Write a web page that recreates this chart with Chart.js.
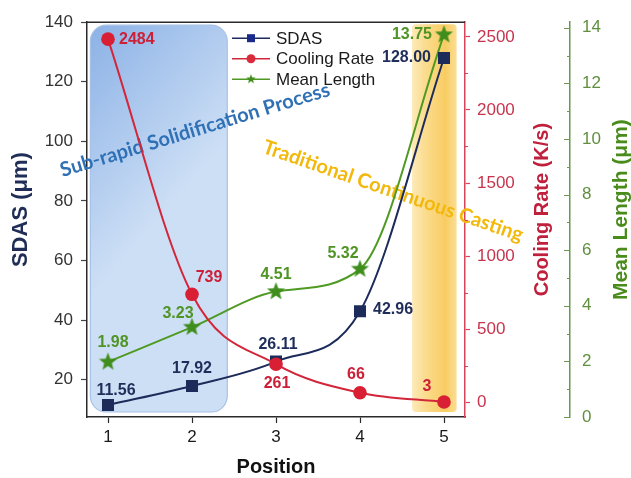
<!DOCTYPE html>
<html>
<head>
<meta charset="utf-8">
<script src="https://cdn.jsdelivr.net/npm/chart.js@4.4.1/dist/chart.umd.min.js"></script>
<style>
  html, body { margin: 0; padding: 0; background: #fff; }
</style>
</head>
<body>
<canvas id="chart" width="631" height="478"></canvas>
<script>
// data
const positions = [1, 2, 3, 4, 5];
const sdas = [11.56, 17.92, 26.11, 42.96, 128.00];
const coolingRate = [2484, 739, 261, 66, 3];
const meanLength = [1.98, 3.23, 4.51, 5.32, 13.75];

// axis ticks
const sdasTicks = [20, 40, 60, 80, 100, 120, 140];
const coolTicks = [0, 500, 1000, 1500, 2000, 2500];
const coolMinor = [250, 750, 1250, 1750, 2250];
const lengthTicks = [0, 2, 4, 6, 8, 10, 12, 14];
const lengthMinor = [1, 3, 5, 7, 9, 11, 13];

// shaded process regions (in position units)
const subRapidRange = [0.79, 2.42];
const traditionalRange = [4.62, 5.15];

// styles
const FONT = "'Liberation Sans', Arial, sans-serif";
const NAVY = '#1d2b5b', RED = '#d3263a', GREEN = '#4f9a22';
const STAR = '#3f8d1c';

// label offsets [dx, dy, align] per point
const sdasLabelPos = [[8, -14, 'center'], [0, -17, 'center'], [2, -17, 'center'], [13, -2, 'left'], [-13, 0, 'right']];
const coolLabelPos = [[11, 0, 'left'], [17, -17, 'center'], [1, 19, 'center'], [-4, -18, 'center'], [-17, -15, 'center']];
const lengthLabelPos = [[5, -19, 'center'], [-14, -14, 'center'], [0, -17, 'center'], [-17, -15, 'center'], [-12, 0, 'right']];

function starCanvas(r, color) {
  const s = Math.ceil(r * 2 + 2);
  const c = document.createElement('canvas');
  c.width = s; c.height = s;
  const g = c.getContext('2d');
  g.beginPath();
  for (let i = 0; i < 10; i++) {
    const rad = i % 2 === 0 ? r : r * 0.42;
    const a = -Math.PI / 2 + i * Math.PI / 5;
    const px = s / 2 + rad * Math.cos(a), py = s / 2 + rad * Math.sin(a);
    i === 0 ? g.moveTo(px, py) : g.lineTo(px, py);
  }
  g.closePath();
  g.fillStyle = color;
  g.fill();
  return c;
}
const bigStar = starCanvas(9.5, STAR);
const smallStar = starCanvas(5, STAR);

const xy = ys => positions.map((x, i) => ({ x, y: ys[i] }));

// background boxes + rotated process names
const regionsPlugin = {
  id: 'regions',
  beforeDatasetsDraw(chart) {
    const { ctx, chartArea: a, scales } = chart;
    const xs = scales.x;
    ctx.save();
    // blue box
    let x1 = xs.getPixelForValue(subRapidRange[0]);
    let x2 = xs.getPixelForValue(subRapidRange[1]);
    let g = ctx.createLinearGradient(x1, a.top, x2, a.top + 120);
    g.addColorStop(0, '#8bb1e6');
    g.addColorStop(1, '#cddff5');
    ctx.beginPath();
    ctx.roundRect(x1, a.top + 3, x2 - x1, a.bottom - a.top - 8, 16);
    ctx.fillStyle = g;
    ctx.fill();
    ctx.strokeStyle = '#a7c2e6';
    ctx.lineWidth = 1.2;
    ctx.stroke();
    // yellow box
    x1 = xs.getPixelForValue(traditionalRange[0]);
    x2 = xs.getPixelForValue(traditionalRange[1]);
    g = ctx.createLinearGradient(x1, 0, x2, 0);
    g.addColorStop(0, 'rgba(252,228,165,0.8)');
    g.addColorStop(0.3, '#fbdc8e');
    g.addColorStop(0.75, '#f8cc62');
    g.addColorStop(1, 'rgba(250,214,120,0.8)');
    ctx.beginPath();
    ctx.roundRect(x1, a.top + 2, x2 - x1, a.bottom - a.top - 7, 4);
    ctx.fillStyle = g;
    ctx.fill();

    // rotated text
    ctx.textAlign = 'center';
    ctx.textBaseline = 'middle';
    ctx.font = "bold 20px Lato, 'Open Sans', sans-serif";
    ctx.save();
    ctx.translate(195, 130);
    ctx.rotate(-16.9 * Math.PI / 180);
    ctx.fillStyle = '#3071b6';
    ctx.fillText('Sub-rapid Solidification Process', 0, 0);
    ctx.restore();
    ctx.save();
    ctx.translate(393, 191);
    ctx.rotate(19 * Math.PI / 180);
    ctx.fillStyle = '#f3b80c';
    ctx.fillText('Traditional Continuous Casting', 0, 0);
    ctx.restore();
    ctx.restore();
  }
};

// value labels next to the markers
const labelsPlugin = {
  id: 'valueLabels',
  afterDatasetsDraw(chart) {
    const { ctx } = chart;
    const specs = [
      { i: 0, pos: sdasLabelPos, color: '#1f2d5a', fmt: v => v.toFixed(2) },
      { i: 1, pos: coolLabelPos, color: '#cc2038', fmt: v => String(v) },
      { i: 2, pos: lengthLabelPos, color: '#4f9424', fmt: v => v.toFixed(2) }
    ];
    ctx.save();
    ctx.font = 'bold 16px ' + FONT;
    ctx.textBaseline = 'middle';
    specs.forEach(s => {
      const meta = chart.getDatasetMeta(s.i);
      const vals = chart.data.datasets[s.i].data;
      meta.data.forEach((pt, k) => {
        const [dx, dy, align] = s.pos[k];
        ctx.fillStyle = s.color;
        ctx.textAlign = align;
        ctx.fillText(s.fmt(vals[k].y), pt.x + dx, pt.y + dy);
      });
    });
    ctx.restore();
  }
};

// frame, minor ticks, axis titles, legend
const decorPlugin = {
  id: 'decor',
  afterDraw(chart) {
    const { ctx, chartArea: a, scales } = chart;
    ctx.save();
    // top frame line
    ctx.strokeStyle = '#2a2a2a';
    ctx.lineWidth = 1.5;
    ctx.beginPath();
    ctx.moveTo(a.left, a.top);
    ctx.lineTo(a.right, a.top);
    ctx.stroke();

    // red minor ticks
    const yc = scales.yCool;
    ctx.strokeStyle = '#d8445a';
    ctx.lineWidth = 1;
    coolMinor.forEach(v => {
      const y = Math.round(yc.getPixelForValue(v)) + 0.5;
      ctx.beginPath(); ctx.moveTo(yc.left, y); ctx.lineTo(yc.left + 3, y); ctx.stroke();
    });
    // green ticks point inwards
    const yl = scales.yLen;
    ctx.strokeStyle = '#6a9650';
    lengthTicks.forEach(v => {
      const y = Math.round(yl.getPixelForValue(v)) + 0.5;
      ctx.beginPath(); ctx.moveTo(yl.left - 6, y); ctx.lineTo(yl.left, y); ctx.stroke();
    });
    lengthMinor.forEach(v => {
      const y = Math.round(yl.getPixelForValue(v)) + 0.5;
      ctx.beginPath(); ctx.moveTo(yl.left - 3, y); ctx.lineTo(yl.left, y); ctx.stroke();
    });

    // axis titles
    const mid = (a.top + a.bottom) / 2;
    const vTitle = (text, x, color, size) => {
      ctx.save();
      ctx.translate(x, mid - 10);
      ctx.rotate(-Math.PI / 2);
      ctx.font = 'bold ' + size + 'px ' + FONT;
      ctx.fillStyle = color;
      ctx.textAlign = 'center';
      ctx.textBaseline = 'middle';
      ctx.fillText(text, 0, 0);
      ctx.restore();
    };
    vTitle('SDAS (μm)', 21, '#1f2d57', 22);
    vTitle('Cooling Rate (K/s)', 542, '#c0203c', 20);
    vTitle('Mean Length (μm)', 621, '#4a8c1c', 21);
    ctx.font = 'bold 20px ' + FONT;
    ctx.fillStyle = '#111';
    ctx.textAlign = 'center';
    ctx.textBaseline = 'middle';
    ctx.fillText('Position', (a.left + a.right) / 2, 467);

    // legend
    const lx = a.left + 145, ly = a.top + 16;
    const items = [
      { text: 'SDAS', color: NAVY, mark: 'rect' },
      { text: 'Cooling Rate', color: RED, mark: 'circle' },
      { text: 'Mean Length', color: GREEN, mark: 'star' }
    ];
    ctx.font = '17px ' + FONT;
    ctx.textAlign = 'left';
    items.forEach((it, k) => {
      const y = ly + k * 20.5;
      ctx.strokeStyle = it.color;
      ctx.lineWidth = 1.5;
      ctx.beginPath(); ctx.moveTo(lx, y); ctx.lineTo(lx + 38, y); ctx.stroke();
      const cx = lx + 19;
      if (it.mark === 'rect') {
        ctx.fillStyle = '#1a2a8a';
        ctx.fillRect(cx - 4, y - 4, 8, 8);
      } else if (it.mark === 'circle') {
        ctx.fillStyle = '#d92b3b';
        ctx.beginPath(); ctx.arc(cx, y, 4.5, 0, Math.PI * 2); ctx.fill();
      } else {
        ctx.drawImage(smallStar, cx - smallStar.width / 2, y - smallStar.height / 2);
      }
      ctx.fillStyle = '#1a1a1a';
      ctx.fillText(it.text, lx + 44, y + 1);
    });
    ctx.restore();
  }
};

const fixTicks = list => scale => { scale.ticks = list.map(v => ({ value: v })); };
const plain = v => String(v);

new Chart(document.getElementById('chart'), {
  type: 'line',
  data: {
    datasets: [
      {
        label: 'SDAS', data: xy(sdas), yAxisID: 'y', order: 1,
        borderColor: NAVY, backgroundColor: NAVY, borderWidth: 2,
        pointStyle: 'rect', pointRadius: 8.5, pointBorderWidth: 0,
        cubicInterpolationMode: 'monotone'
      },
      {
        label: 'Cooling Rate', data: xy(coolingRate), yAxisID: 'yCool', order: 0,
        borderColor: RED, backgroundColor: '#d81f33', borderWidth: 2,
        pointStyle: 'circle', pointRadius: 6.8, pointBorderWidth: 0,
        cubicInterpolationMode: 'monotone'
      },
      {
        label: 'Mean Length', data: xy(meanLength), yAxisID: 'yLen', order: 2,
        borderColor: GREEN, backgroundColor: STAR, borderWidth: 2,
        pointStyle: bigStar, pointRadius: 9,
        cubicInterpolationMode: 'monotone'
      }
    ]
  },
  options: {
    responsive: false,
    animation: false,
    devicePixelRatio: 1,
    layout: { padding: { top: 17, left: 0, right: 0, bottom: 0 } },
    plugins: { legend: { display: false }, tooltip: { enabled: false } },
    scales: {
      x: {
        type: 'linear', min: 0.75, max: 5.25,
        afterBuildTicks: fixTicks(positions),
        afterFit: s => { s.height = 61; },
        grid: { drawOnChartArea: false, tickLength: 6, tickColor: '#2a2a2a', tickWidth: 1.2 },
        border: { color: '#2a2a2a', width: 1.5 },
        ticks: { font: { size: 17, family: FONT }, color: '#1a1a1a', padding: 4, maxRotation: 0, autoSkip: false, callback: plain }
      },
      y: {
        position: 'left', min: 7.5, max: 140,
        afterBuildTicks: fixTicks(sdasTicks),
        afterFit: s => { s.width = 87; },
        grid: { drawOnChartArea: false, tickLength: 6, tickColor: '#444', tickWidth: 1.2 },
        border: { color: '#2a2a2a', width: 1.5 },
        ticks: { font: { size: 17, family: FONT }, color: '#333', padding: 8, autoSkip: false, callback: plain }
      },
      yCool: {
        position: 'right', weight: 0, min: -100, max: 2600,
        afterBuildTicks: fixTicks(coolTicks),
        afterFit: s => { s.width = 105; },
        grid: { drawOnChartArea: false, tickLength: 5, tickColor: '#d8445a', tickWidth: 1.2 },
        border: { color: '#d8445a', width: 1.5 },
        ticks: { font: { size: 17, family: FONT }, color: '#c8344e', padding: 7, autoSkip: false, callback: plain }
      },
      yLen: {
        position: 'right', weight: 1, min: 0, max: 14.2,
        afterBuildTicks: fixTicks(lengthTicks),
        afterFit: s => { s.width = 61; },
        grid: { drawOnChartArea: false, drawTicks: false },
        border: { color: '#6a9650', width: 1.5 },
        ticks: { font: { size: 17, family: FONT }, color: '#5f8f3f', padding: 12, autoSkip: false, callback: plain }
      }
    }
  },
  plugins: [regionsPlugin, labelsPlugin, decorPlugin]
});
</script>
</body>
</html>
